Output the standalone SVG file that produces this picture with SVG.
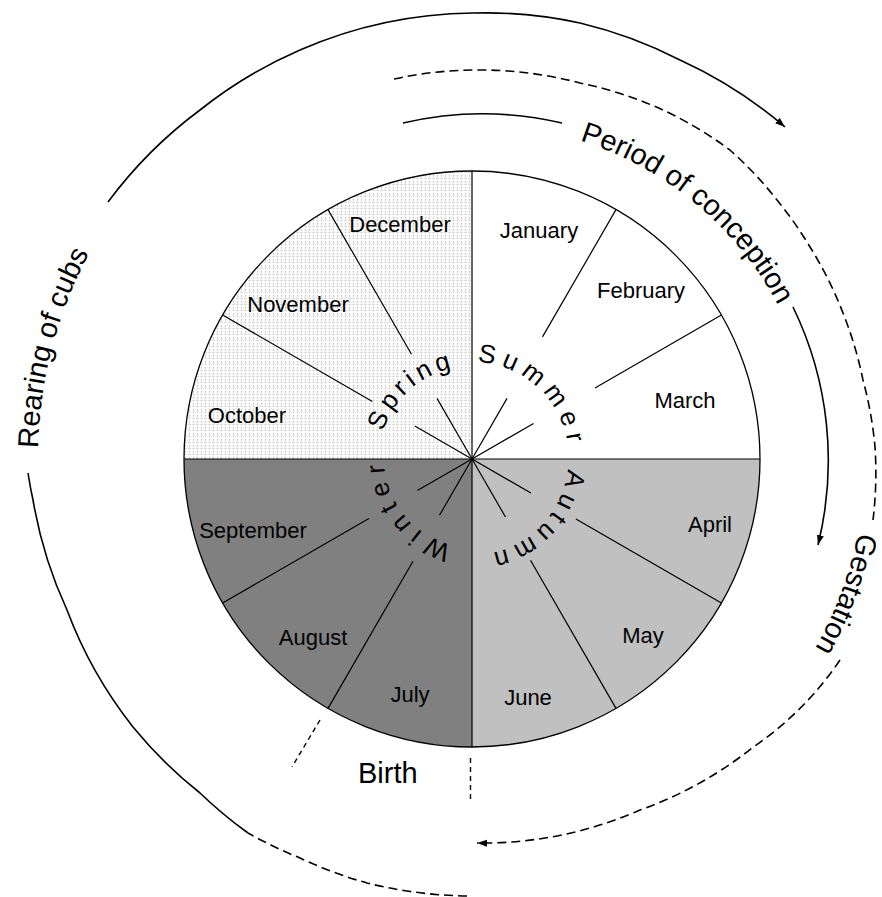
<svg xmlns="http://www.w3.org/2000/svg" width="882" height="897" viewBox="0 0 882 897">
<style>
text{font-family:"Liberation Sans",Arial,sans-serif;fill:#000}
.m{font-size:22px;text-anchor:middle}
.big{font-size:29px}
.season{font-size:26px}
.spoke{stroke:#000;stroke-width:1.2;fill:none}
.arc{fill:none;stroke:#000;stroke-width:1.6}
.dash{stroke-dasharray:9 5}
.bdash{fill:none;stroke:#000;stroke-width:1.4;stroke-dasharray:5 4}
</style>
<defs>
<pattern id="dots" width="8" height="6" patternUnits="userSpaceOnUse">
<rect width="8" height="6" fill="#fff"/>
<path d="M2.2 0.8 L1 1.8 L2.2 2.8 M4.8 0.8 L6 1.8 L4.8 2.8 M0.5 3.8 L1.5 5 L2.5 3.8 M4.5 5 L5.5 3.8 L6.5 5" fill="none" stroke="#b4b4b4" stroke-width="0.8"/>
</pattern>
<marker id="ah" markerUnits="userSpaceOnUse" markerWidth="12" markerHeight="10" refX="10" refY="4" orient="auto">
<path d="M0 0.5 L10 4 L0 7.5 Z" fill="#000"/>
</marker>
<path id="tpSpring" d="M383.1 431.8 A93 93 0 0 1 543.2 399.2"/>
<path id="tpSummer" d="M477.1 362.1 A97 97 0 0 1 556 507.5"/>
<path id="tpAutumn" d="M567.5 469 A96 96 0 0 1 424 542.1"/>
<path id="tpWinter" d="M452.2 544.7 A88 88 0 0 1 404.6 402.4"/>
<path id="tpPeriod" d="M579.7 140.5 A340 340 0 0 1 806.4 377"/>
<path id="tpGest" d="M858 532.5 A380 380 0 0 1 675 789.1"/>
<path id="tpRear" d="M38.1 448.1 A435 435 0 0 1 255.5 81.3"/>
</defs>

<rect width="882" height="897" fill="#fff"/>

<g id="pie">
<path id="q-spring" d="M472 459 L184 459 A288 288 0 0 1 472 171 Z" fill="url(#dots)"/>
<path id="q-summer" d="M472 459 L472 171 A288 288 0 0 1 760 459 Z" fill="#fff"/>
<path id="q-autumn" d="M472 459 L760 459 A288 288 0 0 1 472 747 Z" fill="#c0c0c0"/>
<path id="q-winter" d="M472 459 L472 747 A288 288 0 0 1 184 459 Z" fill="#808080"/>
<circle cx="472" cy="459" r="288" fill="none" stroke="#000" stroke-width="1.3"/>
<g id="spokes" class="spoke">
<path d="M472 171 V747 M184 459 H760"/>
<path d="M472 459 L530.9 493 M575.9 519 L721.4 603"/>
<path d="M472 459 L505.5 517 M530.5 560.3 L616 708.4"/>
<path d="M472 459 L439.5 515.3 M413 561.2 L328 708.4"/>
<path d="M472 459 L417.4 490.5 M368.9 518.5 L222.6 603"/>
<path d="M472 459 L414.8 426 M372.4 401.5 L222.6 315"/>
<path d="M472 459 L437 398.4 M411.5 354.2 L328 209.6"/>
<path d="M472 459 L507 398.4 M542.5 336.9 L616 209.6"/>
<path d="M472 459 L533.5 423.5 M595 388 L721.4 315"/>
</g>
</g>

<g id="months">
<g id="m-january"><text class="m" x="539" y="238">January</text></g>
<g id="m-february"><text class="m" x="641" y="298">February</text></g>
<g id="m-march"><text class="m" x="685" y="408">March</text></g>
<g id="m-april"><text class="m" x="710" y="532">April</text></g>
<g id="m-may"><text class="m" x="643" y="643">May</text></g>
<g id="m-june"><text class="m" x="528" y="705">June</text></g>
<g id="m-july"><text class="m" x="410" y="702">July</text></g>
<g id="m-august"><text class="m" x="313" y="645">August</text></g>
<g id="m-september"><text class="m" x="253" y="538">September</text></g>
<g id="m-october"><text class="m" x="247" y="423">October</text></g>
<g id="m-november"><text class="m" x="298" y="312">November</text></g>
<g id="m-december"><text class="m" x="400" y="232">December</text></g>
</g>

<g id="seasons">
<g id="s-spring"><text class="season" letter-spacing="4.5"><textPath href="#tpSpring">Spring</textPath></text></g>
<g id="s-summer"><text class="season" letter-spacing="6.5"><textPath href="#tpSummer">Summer</textPath></text></g>
<g id="s-autumn"><text class="season" letter-spacing="6"><textPath href="#tpAutumn">Autumn</textPath></text></g>
<g id="s-winter"><text class="season" letter-spacing="7.5"><textPath href="#tpWinter">Winter</textPath></text></g>
</g>

<g id="connectors">
<path class="arc dash" d="M467 896 A440 440 0 0 1 367 883 A440 440 0 0 1 300 858 A440 440 0 0 1 248 833"/>
<path class="arc" d="M248 833 A435 435 0 0 1 200 793 A435 435 0 0 1 133 727 A435 435 0 0 1 67 610 A435 435 0 0 1 33 500 A435 435 0 0 1 28 473"/>
<path class="arc" marker-end="url(#ah)" d="M108 202 A445 445 0 0 1 200 110 A445 445 0 0 1 300 50 A445 445 0 0 1 473 13 A445 445 0 0 1 580 23 A445 445 0 0 1 680 60 A445 445 0 0 1 785 127"/>
<path class="arc" d="M403 123 A351 351 0 0 1 562 123"/>
<path class="arc" marker-end="url(#ah)" d="M793 307 A351 351 0 0 1 818 545"/>
<path class="arc dash" d="M394 79 A390 390 0 0 1 473 70 A390 390 0 0 1 580 83 A390 390 0 0 1 663 110 A390 390 0 0 1 730 150 A390 390 0 0 1 777 200 A390 390 0 0 1 810 247 A390 390 0 0 1 843 313 A390 390 0 0 1 863 380 A390 390 0 0 1 875 447 A390 390 0 0 1 873 520"/>
<path class="arc dash" marker-end="url(#ah)" d="M840 660 A330 330 0 0 1 752 748 A390 390 0 0 1 640 810 A390 390 0 0 1 477 843"/>
<path class="bdash" d="M470.5 758 V803"/>
<path class="bdash" d="M320 720 L292 767"/>
</g>

<g id="labels">
<g id="l-period"><text class="big"><textPath href="#tpPeriod">Period of conception</textPath></text></g>
<g id="l-gestation"><text class="big"><textPath href="#tpGest">Gestation</textPath></text></g>
<g id="l-rearing"><text class="big"><textPath href="#tpRear">Rearing of cubs</textPath></text></g>
<g id="l-birth"><text class="big" x="358" y="783">Birth</text></g>
</g>
</svg>
